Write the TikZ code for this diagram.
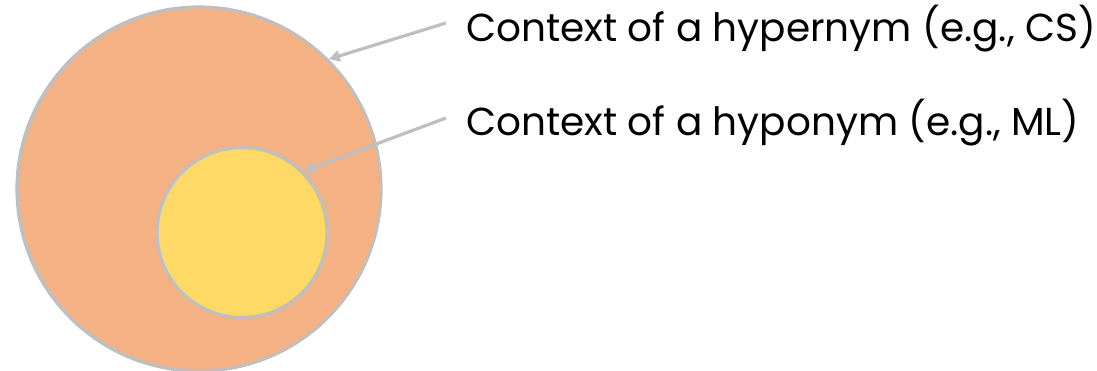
\documentclass[tikz,border=0pt]{standalone}
\usepackage{fontspec}
\setmainfont{Poppins}
\usetikzlibrary{arrows.meta}
\definecolor{outerfill}{HTML}{F4B183}
\definecolor{innerfill}{HTML}{FFD966}
\definecolor{edgegray}{RGB}{191,191,191}
\tikzset{
  disc/.style={circle, draw=edgegray, line width=3.2pt, inner sep=0pt},
  pointer/.style={draw=edgegray, line width=3.2pt, -{Triangle[length=11pt,width=11pt]}},
  label/.style={anchor=base west, inner sep=0pt, font=\fontsize{39}{46}\selectfont}
}
\begin{document}
\begin{tikzpicture}[x=1pt,y=-1pt]
\useasboundingbox (0,0) rectangle (1097,371);
\node[disc, fill=outerfill, minimum size=364pt] (big) at (199,189) {};
\node[disc, fill=innerfill, minimum size=170pt] (small) at (242,232.5) {};
\node[label] (t1) at (466,42) {Context of a hypernym (e.g., CS)};
\node[label] (t2) at (466,136) {Context of a hyponym (e.g., ML)};
\coordinate (s1) at (446,23);
\coordinate (s2) at (446,118);
\draw[pointer] (s1) -- (big.45);
\draw[pointer] (s2) -- (small.45);
\end{tikzpicture}
\end{document}
